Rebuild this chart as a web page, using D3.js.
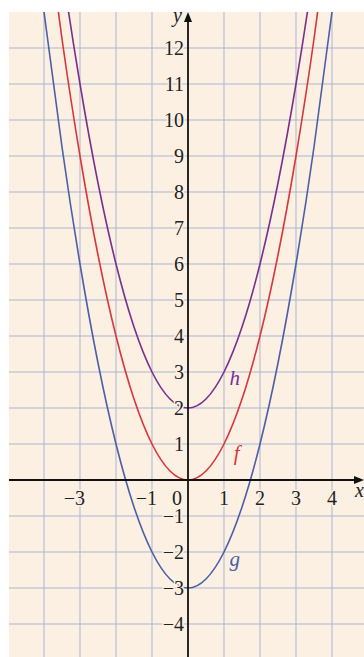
<!DOCTYPE html>
<html>
<head>
<meta charset="utf-8">
<script src="https://cdn.jsdelivr.net/npm/d3@7"></script>
<style>
  body { margin: 0; background: #fff; }
  svg { display: block; }
</style>
</head>
<body>
<div id="chart"></div>
<script>
var xVals = [-4, -3.5, -3, -2.5, -2, -1.5, -1, -0.5, 0, 0.5, 1, 1.5, 2, 2.5, 3, 3.5, 4];
var fVals = [16, 12.25, 9, 6.25, 4, 2.25, 1, 0.25, 0, 0.25, 1, 2.25, 4, 6.25, 9, 12.25, 16];
var gVals = [13, 9.25, 6, 3.25, 1, -0.75, -2, -2.75, -3, -2.75, -2, -0.75, 1, 3.25, 6, 9.25, 13];
var hVals = [18, 14.25, 11, 8.25, 6, 4.25, 3, 2.25, 2, 2.25, 3, 4.25, 6, 8.25, 11, 14.25, 18];

var xTicks = [-3, -1, 0, 1, 2, 3, 4];
var yTicks = [-4, -3, -2, -1, 1, 2, 3, 4, 5, 6, 7, 8, 9, 10, 11, 12];
var xGrid = [-4, -3, -2, -1, 1, 2, 3, 4];
var yGrid = [-4, -3, -2, -1, 1, 2, 3, 4, 5, 6, 7, 8, 9, 10, 11, 12];

var curves = [
  {name: "g", values: gVals, color: "#4a5fa8", labelAt: [1.3, -2.4]},
  {name: "f", values: fVals, color: "#d8363b", labelAt: [1.35, 0.55]},
  {name: "h", values: hVals, color: "#7a2e8e", labelAt: [1.3, 2.65]}
];

var width = 364, height = 657;
var padLeft = 9, padTop = 12;
var bg = "#fcf0e3";

var x = d3.scaleLinear().domain([-5, 5]).range([8, 368]);
var y = d3.scaleLinear().domain([-5, 13]).range([660, 12]);

var svg = d3.select("#chart").append("svg")
  .attr("width", width)
  .attr("height", height);

svg.append("clipPath").attr("id", "plot")
  .append("rect")
  .attr("x", padLeft).attr("y", padTop)
  .attr("width", width - padLeft).attr("height", height - padTop);

svg.append("rect")
  .attr("x", padLeft).attr("y", padTop)
  .attr("width", width - padLeft).attr("height", height - padTop)
  .attr("fill", bg);

var g = svg.append("g").attr("clip-path", "url(#plot)");

// grid
g.selectAll(".vgrid")
  .data(xGrid)
  .enter().append("line")
  .attr("x1", function(d){return x(d);})
  .attr("x2", function(d){return x(d);})
  .attr("y1", padTop).attr("y2", height)
  .attr("stroke", "#a9b6d0")
  .attr("stroke-width", 1);

g.selectAll(".hgrid")
  .data(yGrid)
  .enter().append("line")
  .attr("y1", function(d){return y(d);})
  .attr("y2", function(d){return y(d);})
  .attr("x1", padLeft).attr("x2", width)
  .attr("stroke", "#a9b6d0")
  .attr("stroke-width", 1);

// curves
var line = d3.line()
  .x(function(d){return x(d[0]);})
  .y(function(d){return y(d[1]);})
  .curve(d3.curveNatural);

g.selectAll(".curve")
  .data(curves)
  .enter().append("path")
  .attr("d", function(c){return line(xVals.map(function(v, i){return [v, c.values[i]];}));})
  .attr("fill", "none")
  .attr("stroke", function(c){return c.color;})
  .attr("stroke-width", 1.6);

// axes
g.append("line")
  .attr("x1", padLeft).attr("x2", width - 6)
  .attr("y1", y(0)).attr("y2", y(0))
  .attr("stroke", "#111").attr("stroke-width", 1.8);

g.append("path")
  .attr("d", "M" + width + "," + y(0) + "l-10,-4l0,8z")
  .attr("fill", "#111");

g.append("line")
  .attr("x1", x(0)).attr("x2", x(0))
  .attr("y1", height).attr("y2", padTop + 6)
  .attr("stroke", "#111").attr("stroke-width", 1.8);

g.append("path")
  .attr("d", "M" + x(0) + "," + padTop + "l-4,10l8,0z")
  .attr("fill", "#111");

var font = "'Liberation Serif', 'Times New Roman', serif";

function fmt(d){ return d < 0 ? "\u2212" + Math.abs(d) : String(d); }

// x tick labels
g.selectAll(".xlab")
  .data(xTicks)
  .enter().append("text")
  .attr("x", function(d){
    if (d < 0) return x(d) + 5;
    if (d === 0) return x(d) - 11;
    return x(d);
  })
  .attr("y", y(0) + 25)
  .attr("text-anchor", function(d){return d < 0 ? "end" : "middle";})
  .attr("font-family", font)
  .attr("font-size", 20)
  .attr("fill", "#222")
  .attr("stroke", bg).attr("stroke-width", 3).attr("paint-order", "stroke")
  .text(fmt);

// y tick labels
g.selectAll(".ylab")
  .data(yTicks)
  .enter().append("text")
  .attr("x", x(0) - 4)
  .attr("y", function(d){return y(d);})
  .attr("dy", "0.34em")
  .attr("text-anchor", "end")
  .attr("font-family", font)
  .attr("font-size", 20)
  .attr("fill", "#222")
  .attr("stroke", bg).attr("stroke-width", 3).attr("paint-order", "stroke")
  .text(fmt);

// axis names
g.append("text")
  .attr("x", x(0) - 6).attr("y", padTop + 10)
  .attr("text-anchor", "end")
  .attr("font-family", font).attr("font-style", "italic")
  .attr("font-size", 20).attr("fill", "#222")
  .text("y");

g.append("text")
  .attr("x", width - 9).attr("y", y(0) + 17)
  .attr("font-family", font).attr("font-style", "italic")
  .attr("font-size", 20).attr("fill", "#222")
  .text("x");

// curve names
g.selectAll(".cname")
  .data(curves)
  .enter().append("text")
  .attr("x", function(c){return x(c.labelAt[0]);})
  .attr("y", function(c){return y(c.labelAt[1]);})
  .attr("text-anchor", "middle")
  .attr("font-family", font).attr("font-style", "italic")
  .attr("font-size", 21)
  .attr("fill", function(c){return c.color;})
  .text(function(c){return c.name;});
</script>
</body>
</html>
